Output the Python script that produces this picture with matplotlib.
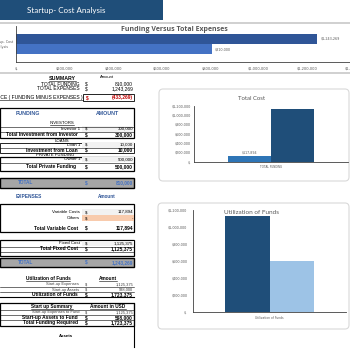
import matplotlib
matplotlib.use('Agg')
import matplotlib.pyplot as plt
from matplotlib.patches import Rectangle, FancyBboxPatch

# ---- chart data ----
fve_category = 'Startup- Cost\nAnalysis'
fve_values = [1243269, 810000]          # total expenses, total funding
fve_colors = ['#2f5597', '#4472c4']

cost_category = 'TOTAL FUNDING'
cost_values = [117894, 1125375]         # variable, fixed
cost_colors = ['#2e75b6', '#1f4e79']

util_category = 'Utilization of Funds'
util_values = [1125375, 598000]         # start-up expenses, start-up assets
util_colors = ['#1f4e79', '#9dc3e6']

# ---- table data ----
summary_labels = ['TOTAL FUNDING', 'TOTAL EXPENSES', 'BALANCE ( FUNDING MINUS EXPENSES )']
summary_values = [810000, 1243269, -433269]

investor_labels = ['Investor 1', 'Total Investment from Investor']
investor_values = [300000, 300000]
loan_labels = ['Loan 1', 'Investment from Loan']
loan_values = [10000, 10000]
private_labels = ['Owner 1', 'Total Private Funding']
private_values = [500000, 500000]
funding_total = 810000

variable_labels = ['Variable Costs', 'Others', 'Total Variable Cost']
variable_values = [117894, None, 117894]
fixed_labels = ['Fixed Cost', 'Total Fixed Cost']
fixed_values = [1125375, 1125375]
expenses_total = 1243269

util_labels = ['Start-up Expenses', 'Start-up Assets', 'Utilization of Funds']
util_table = [1125375, 598000, 1723375]
startup_labels = ['Start-up Expenses to Fund', 'Start-up Assets to Fund', 'Total Funding Required']
startup_values = [1125375, 598000, 1723375]

W = H = 350
TF = 'Liberation Sans'
GRAY = '#595959'
BLUE = '#2f5597'


def fig_rect(x0, y0, x1, y1):
    return [x0 / W, 1 - y1 / H, (x1 - x0) / W, (y1 - y0) / H]


def money(v):
    if v is None:
        return '-'
    if v < 0:
        return f'({-v:,})'
    return f'{v:,}'


def dollar_fmt(v, pos=None):
    return '$-' if v == 0 else f'${v:,.0f}'


fig = plt.figure(figsize=(3.5, 3.5), dpi=100)
bg = fig.add_axes([0, 0, 1, 1])
bg.set_xlim(0, W)
bg.set_ylim(H, 0)
bg.axis('off')
renderer = fig.canvas.get_renderer()


def txt(x, y, s, size=3.2, bold=False, color='black', ha='left', underline=False):
    t = bg.text(x, y, s, fontsize=size, fontweight='bold' if bold else 'normal',
                color=color, ha=ha, va='center', family=TF)
    if underline:
        bb = t.get_window_extent(renderer)
        bg.plot([bb.x0, bb.x1], [y + 2.4, y + 2.4], color=color, lw=0.4)
    return t


def hline(y, x0=0, x1=134, lw=0.4):
    bg.plot([x0, x1], [y, y], color='black', lw=lw)


def box(x0, y0, x1, y1, lw=0.9, fc='none'):
    bg.add_patch(Rectangle((x0, y0), x1 - x0, y1 - y0, fc=fc, ec='black', lw=lw))


def row(y, label, value, bold=False, color='black', cell=None, label_x=80,
        size=3.2, lcolor='black'):
    if cell:
        bg.add_patch(Rectangle((82, y - 2.8), 51.5, 5.6, fc=cell, ec='none'))
    if bold:
        size = 3.5
    txt(label_x, y, label, size=size, bold=bold, ha='right', color=lcolor)
    txt(84.5, y, '$', size=size, bold=bold, color=color)
    txt(133, y, money(value), size=size, bold=bold, color=color, ha='right')


# ---- banner and separators ----
bg.add_patch(Rectangle((0, 0), 163, 19.5, fc='#1f4e79', ec='none'))
bg.text(27, 10, 'Startup- Cost Analysis', color='white', fontsize=5.8,
        family='Lato', va='center')
bg.plot([0, W], [22.5, 22.5], color='#d0d0d0', lw=1.4)
bg.plot([0, W], [72.5, 72.5], color='#d0d0d0', lw=1.4)
bg.text(174, 29.5, 'Funding Versus Total Expenses', fontsize=5.0, fontweight='bold',
        color=GRAY, ha='center', va='center', family='Open Sans')

# ---- top chart ----
ax1 = fig.add_axes(fig_rect(16, 26, 355.5, 62))
ax1.set_facecolor('none')
ax1.barh([0.28, -0.28], fve_values, height=0.55, color=fve_colors)
for yy, v in zip([0.28, -0.28], fve_values):
    ax1.annotate(dollar_fmt(v), (v, yy), xytext=(2, 0), textcoords='offset points',
                 fontsize=2.4, va='center', color=GRAY)
ax1.set_xlim(0, 1.4e6)
ax1.set_ylim(-1, 1)
ax1.set_xticks(range(0, 1400001, 200000))
ax1.set_xticklabels([dollar_fmt(v) for v in range(0, 1400001, 200000)])
ax1.set_yticks([0])
ax1.set_yticklabels([fve_category])
for lab in ax1.get_yticklabels():
    lab.set_multialignment('center')
ax1.tick_params(axis='x', length=0, labelsize=2.6, labelcolor=GRAY, pad=3.5)
ax1.tick_params(axis='y', length=0, labelsize=2.4, labelcolor=GRAY, pad=2)

# ---- chart boxes ----
bg.add_patch(FancyBboxPatch((159, 89), 190, 92, boxstyle='round,pad=0,rounding_size=4',
                            fc='white', ec='#d9d9d9', lw=0.8))
bg.add_patch(FancyBboxPatch((158, 203), 191, 126, boxstyle='round,pad=0,rounding_size=4',
                            fc='white', ec='#d9d9d9', lw=0.8))
bg.text(252, 98, 'Total Cost', fontsize=4.3, color=GRAY, ha='center', va='center', family='Lato')
bg.text(252, 212.5, 'Utilization of Funds', fontsize=4.6, color=GRAY, ha='center',
        va='center', family='Lato')

# ---- total cost chart ----
ax2 = fig.add_axes(fig_rect(194, 105.7, 348, 161.7))
ax2.set_facecolor('none')
ax2.bar([-0.141, 0.141], cost_values, width=0.282, color=cost_colors)
ax2.annotate(dollar_fmt(cost_values[0]), (-0.141, cost_values[0]), xytext=(0, 1.5),
             textcoords='offset points', fontsize=2.3, ha='center', va='bottom', color=GRAY)
ax2.set_xlim(-0.5, 0.5)
ax2.set_ylim(0, 1.2e6)
ax2.set_yticks(range(0, 1200001, 200000))
ax2.set_yticklabels([dollar_fmt(v) for v in range(0, 1200001, 200000)])
ax2.set_xticks([0])
ax2.set_xticklabels([cost_category])
ax2.tick_params(axis='y', length=0, labelsize=2.4, labelcolor=GRAY, pad=2.2)
ax2.tick_params(axis='x', length=0, labelsize=2.0, labelcolor=GRAY, pad=2.5)

# ---- utilization chart ----
ax3 = fig.add_axes(fig_rect(193, 209.7, 346, 312.3))
ax3.set_facecolor('none')
ax3.bar([-0.147, 0.147], util_values, width=0.294, color=util_colors)
ax3.set_xlim(-0.5, 0.5)
ax3.set_ylim(0, 1.2e6)
ax3.set_yticks(range(0, 1200001, 200000))
ax3.set_yticklabels([dollar_fmt(v) for v in range(0, 1200001, 200000)])
ax3.set_xticks([0])
ax3.set_xticklabels([util_category])
ax3.tick_params(axis='y', length=0, labelsize=2.4, labelcolor=GRAY, pad=4)
ax3.tick_params(axis='x', length=0, labelsize=2.2, labelcolor=GRAY, pad=3)

for a in (ax1, ax2, ax3):
    for s in ('top', 'right'):
        a.spines[s].set_visible(False)
    for s in ('left', 'bottom'):
        a.spines[s].set_color('#404040')
        a.spines[s].set_linewidth(0.6)

# ---- summary ----
txt(62, 79, 'SUMMARY', size=3.8, bold=True, ha='center', underline=True)
txt(107, 76.5, 'Amount', size=3.0, ha='center')
row(84, summary_labels[0], summary_values[0], size=3.5, label_x=79.5)
row(89, summary_labels[1], summary_values[1], size=3.5, label_x=79.5)
box(83, 94, 134, 101, lw=0.6)
txt(83, 97.5, summary_labels[2], size=3.6, ha='right', underline=True)
txt(85.5, 97.5, '$', size=3.5, color='#c00000', bold=True)
txt(133, 97.5, money(summary_values[2]), size=3.5, color='#c00000', bold=True, ha='right')

# ---- funding ----
box(0, 108, 134, 138)
txt(28, 113.5, 'FUNDING', size=3.8, bold=True, color=BLUE, ha='center')
txt(108, 113.5, 'AMOUNT', size=3.8, bold=True, color=BLUE, ha='center')
txt(62, 123, 'INVESTORS', size=3.1, ha='center', underline=True)
hline(126.5)
row(129, investor_labels[0], investor_values[0], cell='#f2f2f2')
hline(132)
row(135, investor_labels[1], investor_values[1], bold=True, label_x=78)
txt(62, 140.5, 'LOANS', size=3.1, ha='center', underline=True)
box(0, 142.5, 134, 152.5, lw=0.6)
row(145, loan_labels[0], loan_values[0], cell='#f2f2f2')
hline(147.5)
row(150, loan_labels[1], loan_values[1], bold=True, label_x=78)
txt(55, 154.5, 'PRIVATE FUNDING', size=3.1, ha='center', underline=True)
box(0, 156.5, 134, 170.5)
row(159.5, private_labels[0], private_values[0], cell='#f2f2f2')
hline(162.5)
row(166.5, private_labels[1], private_values[1], bold=True, label_x=76)
box(0, 178, 134, 187.5, fc='#a6a6a6', lw=1.0)
txt(26, 182.7, 'TOTAL', size=3.4, bold=True, color='#4472c4', ha='center')
txt(84.5, 182.7, '$', size=3.4, bold=True, color='#4472c4')
txt(133, 182.7, money(funding_total), size=3.4, bold=True, color='#4472c4', ha='right')

# ---- expenses ----
txt(29, 196, 'EXPENSES', size=3.5, bold=True, color=BLUE, ha='center')
txt(107, 196, 'Amount', size=3.3, bold=True, color=BLUE, ha='center')
box(0, 204, 134, 232)
row(212, variable_labels[0], variable_values[0], cell='#f2f2f2')
row(218, variable_labels[1], variable_values[1], cell='#f8cbad')
row(228, variable_labels[2], variable_values[2], bold=True, label_x=78)
box(0, 239.5, 134, 256)
row(243.5, fixed_labels[0], fixed_values[0], cell='#f2f2f2')
hline(246.5)
row(249, fixed_labels[1], fixed_values[1], bold=True, label_x=78)
hline(252)
box(0, 258, 134, 266.5, fc='#a6a6a6', lw=1.0)
txt(26, 262.3, 'TOTAL', size=3.4, bold=True, color='#4472c4', ha='center')
txt(84.5, 262.3, '$', size=3.4, bold=True, color='#4472c4')
txt(133, 262.3, money(expenses_total), size=3.4, bold=True, color='#4472c4', ha='right')

# ---- utilization of funds ----
txt(48, 279, 'Utilization of Funds', size=3.4, bold=True, ha='center', underline=True)
txt(108, 279, 'Amount', size=3.4, bold=True, ha='center', underline=True)
row(284.5, util_labels[0], util_table[0], size=2.9, label_x=79, color='#404040', lcolor='#404040')
hline(287)
row(289.5, util_labels[1], util_table[1], size=2.9, label_x=79, color='#404040', lcolor='#404040')
hline(292)
row(294.5, util_labels[2], util_table[2], bold=True, label_x=78)
hline(297, lw=0.8)

# ---- start up summary ----
box(0, 303, 134, 325.5)
txt(52, 306.5, 'Start up Summary', size=3.4, bold=True, ha='center', underline=True)
txt(108, 306.5, 'Amount in USD', size=3.4, bold=True, ha='center', underline=True)
hline(310)
row(312.5, startup_labels[0], startup_values[0], size=2.9, label_x=79, color='#404040', lcolor='#404040')
hline(315)
row(317.5, startup_labels[1], startup_values[1], bold=True, label_x=78)
hline(320)
row(322.5, startup_labels[2], startup_values[2], bold=True, label_x=78)
bg.plot([133.5, 133.5], [303, 347], color='black', lw=0.8)
txt(66, 336, 'Assets', size=3.1, bold=True, ha='center')

fig.savefig('out.png', dpi=100)
